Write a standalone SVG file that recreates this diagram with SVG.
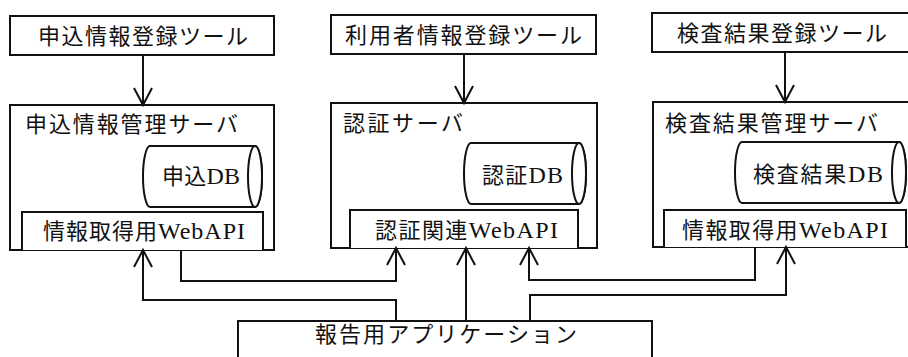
<svg xmlns="http://www.w3.org/2000/svg" width="908" height="357" viewBox="0 0 908 357">
<style>
.box{fill:#fff;stroke:#111;stroke-width:2}
.db{fill:#fff;stroke:#111;stroke-width:2}
.t{font-family:"Liberation Serif","Noto Sans CJK JP",serif;font-size:22px;fill:#111}
.l{font-size:24px}
.c{fill:none;stroke:#111;stroke-width:2}
</style>
<defs>
<marker id="ah" viewBox="-19 -11 21 22" refX="0" refY="0" markerWidth="21" markerHeight="22" markerUnits="userSpaceOnUse" orient="auto" overflow="visible">
<path d="M-17,-9 L0,0 L-17,9" fill="none" stroke="#111" stroke-width="2"/>
</marker>
</defs>
<rect width="908" height="357" fill="#fff"/>
<g id="tool1"><rect class="box" x="10" y="16" width="264" height="39"/><text class="t" x="38" y="44" textLength="210" lengthAdjust="spacing">申込情報登録ツール</text></g>
<g id="tool2"><rect class="box" x="331" y="15" width="265" height="39"/><text class="t" x="345" y="43" textLength="237" lengthAdjust="spacing">利用者情報登録ツール</text></g>
<g id="tool3"><rect class="box" x="652" y="13" width="262" height="39"/><text class="t" x="677" y="41" textLength="210" lengthAdjust="spacing">検査結果登録ツール</text></g>
<g id="server1"><rect class="box" x="10" y="105" width="264" height="145"/><text class="t" x="25" y="132" textLength="213" lengthAdjust="spacing">申込情報管理サーバ</text>
<g id="db1"><path class="db" d="M150,146 L255,146 A7,30.5 0 0 1 255,207 L150,207 A7,30.5 0 0 1 150,146 Z"/><ellipse class="db" cx="255" cy="176.5" rx="7" ry="30.5"/><text class="t" x="162" y="184" textLength="78" lengthAdjust="spacing">申込<tspan class="l">DB</tspan></text></g>
<g id="api1"><path class="box" d="M22,250 L22,212 L263,212 L263,250"/><text class="t" x="43" y="239" textLength="202" lengthAdjust="spacing">情報取得用<tspan class="l">WebAPI</tspan></text></g></g>
<g id="server2"><rect class="box" x="331" y="103" width="266" height="145"/><text class="t" x="343" y="131" textLength="120" lengthAdjust="spacing">認証サーバ</text>
<g id="db2"><path class="db" d="M471,143 L579,143 A7,30.5 0 0 1 579,204 L471,204 A7,30.5 0 0 1 471,143 Z"/><ellipse class="db" cx="579" cy="173.5" rx="7" ry="30.5"/><text class="t" x="482" y="183" textLength="81" lengthAdjust="spacing">認証<tspan class="l">DB</tspan></text></g>
<g id="api2"><path class="box" d="M350,248 L350,210 L578,210 L578,248"/><text class="t" x="375" y="238" textLength="183" lengthAdjust="spacing">認証関連<tspan class="l">WebAPI</tspan></text></g></g>
<g id="server3"><rect class="box" x="653" y="102" width="262" height="145"/><text class="t" x="665" y="131" textLength="213" lengthAdjust="spacing">検査結果管理サーバ</text>
<g id="db3"><path class="db" d="M742,142 L899,142 A7,30.5 0 0 1 899,203 L742,203 A7,30.5 0 0 1 742,142 Z"/><ellipse class="db" cx="899" cy="172.5" rx="7" ry="30.5"/><text class="t" x="753" y="182" textLength="130" lengthAdjust="spacing">検査結果<tspan class="l">DB</tspan></text></g>
<g id="api3"><path class="box" d="M664,247 L664,210 L906,210 L906,247"/><text class="t" x="682" y="238" textLength="206" lengthAdjust="spacing">情報取得用<tspan class="l">WebAPI</tspan></text></g></g>
<g id="app"><rect class="box" x="238" y="321" width="414" height="45"/><text class="t" x="315" y="342" textLength="262" lengthAdjust="spacing">報告用アプリケーション</text></g>
<g id="connectors">
<path class="c" d="M143,55 L143,105" marker-end="url(#ah)"/>
<path class="c" d="M464,54 L464,103" marker-end="url(#ah)"/>
<path class="c" d="M785,52 L785,102" marker-end="url(#ah)"/>
<path class="c" d="M396,321 L396,300 L143,300 L143,250" marker-end="url(#ah)"/>
<path class="c" d="M181,250 L181,281 L396,281 L396,248" marker-end="url(#ah)"/>
<path class="c" d="M466,321 L466,248" marker-end="url(#ah)"/>
<path class="c" d="M755,247 L755,280 L529,280 L529,248" marker-end="url(#ah)"/>
<path class="c" d="M530,321 L530,295 L786,295 L786,247" marker-end="url(#ah)"/>
</g>
</svg>
